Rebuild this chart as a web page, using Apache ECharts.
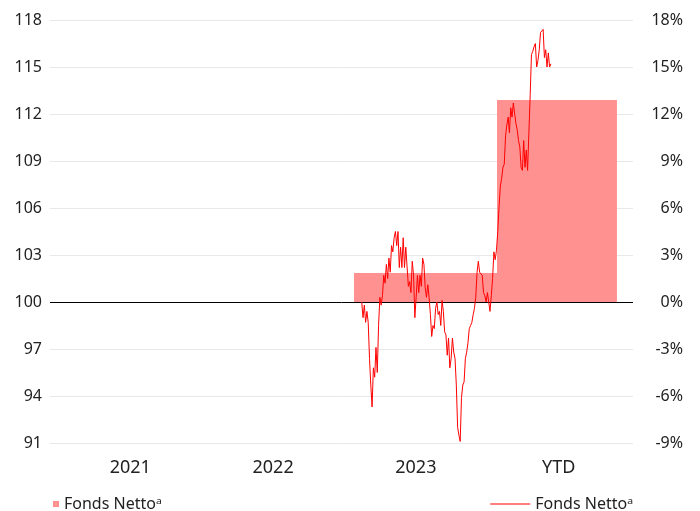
<!DOCTYPE html>
<html>
<head>
<meta charset="utf-8">
<script src="https://cdn.jsdelivr.net/npm/echarts@6/dist/echarts.min.js"></script>
<style>
  html, body { margin: 0; padding: 0; background: #fff; }
  #chart { width: 700px; height: 511px; }
</style>
</head>
<body>
<div id="chart"></div>
<script>
// x is measured in months from Jan 2021
const yearLabels = ['2021', '2022', '2023', 'YTD'];
const yearLabelAt = [6.75, 18.75, 30.75, 42.75];

// yearly return bars (%)
const barStart = [25.55, 37.57];
const barEnd = [37.57, 47.65];
const barReturns = [1.85, 12.9];

// fund index (start = 100), evenly spaced trading days
const lineStart = 26.2;
const lineEnd = 42.1;
const navValues = [
  100.0, 99.0, 99.8, 98.7, 99.4, 98.7, 96.4, 94.7, 93.3, 95.8,
  95.2, 97.1, 95.5, 98.5, 100.3, 99.8, 100.4, 101.7, 101.2, 102.4,
  101.5, 102.8, 101.9, 103.6, 103.2, 104.1, 104.5, 103.6, 104.5, 102.2,
  103.5, 102.2, 104.1, 102.2, 103.5, 103.6, 101.0, 101.3, 100.6, 102.6,
  101.7, 99.0, 100.3, 101.7, 100.6, 101.7, 101.0, 102.8, 102.4, 100.9,
  100.3, 101.1, 100.3, 99.2, 97.8, 98.5, 98.3, 99.6, 100.0, 99.2,
  99.4, 98.5, 100.1, 99.4, 98.1, 97.9, 96.6, 97.7, 95.8, 96.4,
  97.7, 96.8, 96.4, 94.7, 92.0, 91.5, 91.1, 93.9, 94.7, 94.9,
  96.4, 96.8, 97.4, 98.3, 98.5, 98.7, 99.2, 99.6, 100.3, 101.9,
  102.6, 101.9, 101.9, 101.7, 100.6, 100.4, 100.0, 100.6, 100.0, 99.4,
  100.4, 101.5, 103.2, 102.7, 103.3, 104.5, 106.1, 107.4, 107.9, 108.6,
  108.8, 110.6, 111.3, 111.8, 110.8, 112.4, 111.8, 112.7, 112.7, 111.4,
  111.0, 110.3, 109.9, 108.6, 108.4, 110.3, 108.6, 109.7, 108.4, 110.8,
  113.2, 115.8, 116.0, 116.3, 116.5, 115.0, 115.4, 116.1, 117.2, 117.1,
  117.4, 115.6, 116.1, 115.0, 115.9, 115.0, 115.2
];

const seriesLabel = 'Fonds Netto\u1d43';
const fontFamily = 'Noto Sans';

const step = (lineEnd - lineStart) / (navValues.length - 1);
const lineData = navValues.map((v, i) => [lineStart + i * step, v - 100]);
const barData = barReturns.map((v, i) => [barStart[i], barEnd[i], v]);

const chart = echarts.init(document.getElementById('chart'), null, { renderer: 'canvas' });

const option = {
  animation: false,
  grid: { left: 50, right: 67, top: 20, bottom: 68 },
  legend: [
    {
      left: 48,
      top: 491,
      itemWidth: 6,
      itemHeight: 6,
      data: [{ name: 'bars', icon: 'rect' }],
      formatter: () => seriesLabel,
      textStyle: { fontFamily: fontFamily, fontSize: 16, color: '#222' },
    },
    {
      right: 62,
      top: 491,
      itemWidth: 40,
      itemHeight: 1,
      data: [{ name: 'line', icon: 'rect' }],
      formatter: () => seriesLabel,
      textStyle: { fontFamily: fontFamily, fontSize: 16, color: '#222' },
    },
  ],
  xAxis: {
    type: 'value',
    min: 0,
    max: 49,
    interval: 0.25,
    axisLine: { show: false },
    axisTick: { show: false },
    splitLine: { show: false },
    axisLabel: {
      margin: 16,
      fontFamily: fontFamily,
      fontSize: 18,
      color: '#222',
      formatter: (v) => {
        const k = yearLabelAt.findIndex((a) => Math.abs(a - v) < 1e-6);
        return k >= 0 ? yearLabels[k] : '';
      },
    },
  },
  yAxis: [
    {
      type: 'value',
      min: -9,
      max: 18,
      interval: 3,
      axisLine: { show: false },
      axisTick: { show: false },
      splitLine: { lineStyle: { color: '#e8e8e8', width: 1 } },
      axisLabel: {
        margin: 8,
        fontFamily: fontFamily,
        fontSize: 16,
        color: '#222',
        formatter: (v) => String(v + 100),
      },
    },
    {
      type: 'value',
      position: 'right',
      min: -9,
      max: 18,
      interval: 3,
      axisLine: { show: false },
      axisTick: { show: false },
      splitLine: { show: false },
      axisLabel: {
        margin: 50,
        align: 'right',
        fontFamily: fontFamily,
        fontSize: 16,
        color: '#222',
        formatter: (v) => v + '%',
      },
    },
  ],
  series: [
    {
      name: 'bars',
      type: 'custom',
      xAxisIndex: 0,
      yAxisIndex: 1,
      z: 1,
      itemStyle: { color: '#ff9191' },
      encode: { x: [0, 1], y: 2 },
      data: barData,
      renderItem: function (params, api) {
        const p0 = api.coord([api.value(0), api.value(2)]);
        const p1 = api.coord([api.value(1), 0]);
        return {
          type: 'rect',
          shape: { x: p0[0], y: p0[1], width: p1[0] - p0[0], height: p1[1] - p0[1] },
          style: { fill: api.visual('color') },
        };
      },
    },
    {
      name: 'line',
      type: 'line',
      xAxisIndex: 0,
      yAxisIndex: 0,
      z: 3,
      symbol: 'none',
      showSymbol: false,
      data: lineData,
      lineStyle: { color: '#ff0000', width: 1 },
      itemStyle: { color: '#ff0000' },
      markLine: {
        silent: true,
        symbol: 'none',
        label: { show: false },
        lineStyle: { color: '#000', width: 1, type: 'solid' },
        data: [{ yAxis: 0 }],
        z: 2,
      },
    },
  ],
};

chart.setOption(option);
</script>
</body>
</html>
